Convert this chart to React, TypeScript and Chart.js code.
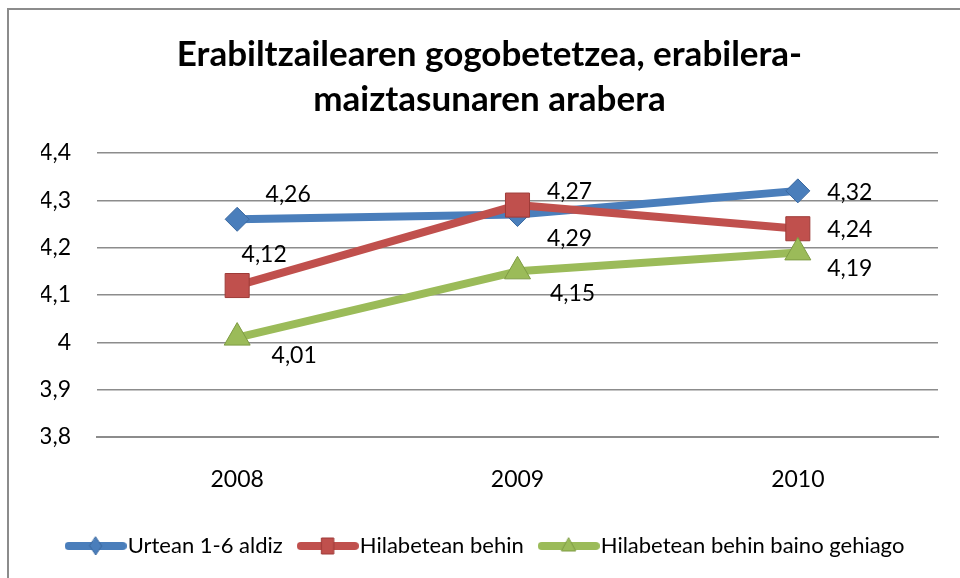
import React, { useEffect, useRef } from "react";
import { Chart, registerables } from "chart.js";

Chart.register(...registerables);

const TITLE_LINES = ["Erabiltzailearen gogobetetzea, erabilera-", "maiztasunaren arabera"];
const YEARS = ["2008", "2009", "2010"];
const SERIES_NAMES = ["Urtean 1-6 aldiz", "Hilabetean behin", "Hilabetean behin baino gehiago"];
const URTEAN = [4.26, 4.27, 4.32];
const HILABETEAN = [4.12, 4.29, 4.24];
const GEHIAGO = [4.01, 4.15, 4.19];
const Y_MIN = 3.8;
const Y_MAX = 4.4;
const Y_STEP = 0.1;

const FONT = "Lato, 'Open Sans', sans-serif";
const COLORS = ["#4A7EBB", "#C0504D", "#9BBB59"];
const BORDERS = ["#3A68A0", "#9E3B38", "#7E9C43"];
const STYLES = ["rectRot", "rect", "triangle"];
const RADII = [12, 17, 15];
// label offsets (dx, dy) from each point, per dataset
const LABEL_OFFSETS = [
  [[51, -25], [52, -23], [52, 2]],
  [[27, -31], [52, 34], [52, 1]],
  [[57, 18], [55, 22], [52, 16]],
];

const fmt = (v: number) => String(Math.round(v * 100) / 100).replace(".", ",");

function legendImage(i: number): HTMLCanvasElement {
  const c = document.createElement("canvas");
  c.width = 62;
  c.height = 24;
  const ctx = c.getContext("2d")!;
  ctx.strokeStyle = COLORS[i];
  ctx.lineWidth = 8;
  ctx.lineCap = "round";
  ctx.beginPath();
  ctx.moveTo(4, 12);
  ctx.lineTo(58, 12);
  ctx.stroke();
  ctx.fillStyle = COLORS[i];
  ctx.strokeStyle = BORDERS[i];
  ctx.lineWidth = 1;
  ctx.beginPath();
  if (i === 0) {
    ctx.moveTo(31, 3);
    ctx.lineTo(37, 12);
    ctx.lineTo(31, 21);
    ctx.lineTo(25, 12);
    ctx.closePath();
  } else if (i === 1) {
    ctx.rect(25, 4, 12, 16);
  } else {
    ctx.moveTo(31, 4);
    ctx.lineTo(38, 17);
    ctx.lineTo(24, 17);
    ctx.closePath();
  }
  ctx.fill();
  ctx.stroke();
  return c;
}

const framePlugin = {
  id: "frame",
  beforeDraw(chart: any) {
    const ctx = chart.ctx;
    ctx.save();
    ctx.fillStyle = "#ffffff";
    ctx.fillRect(0, 0, chart.width, chart.height);
    ctx.strokeStyle = "#8c8c8c";
    ctx.lineWidth = 2;
    ctx.beginPath();
    ctx.moveTo(8, chart.height);
    ctx.lineTo(8, 9);
    ctx.lineTo(chart.width, 9);
    ctx.stroke();
    ctx.restore();
  },
};

const labelPlugin = {
  id: "valueLabels",
  afterDatasetsDraw(chart: any) {
    const ctx = chart.ctx;
    ctx.save();
    ctx.font = `23px ${FONT}`;
    ctx.fillStyle = "#000";
    ctx.textAlign = "center";
    ctx.textBaseline = "middle";
    chart.data.datasets.forEach((ds: any, di: number) => {
      const meta = chart.getDatasetMeta(di);
      meta.data.forEach((pt: any, pi: number) => {
        const [dx, dy] = LABEL_OFFSETS[di][pi];
        ctx.fillText(fmt(ds.data[pi]), pt.x + dx, pt.y + dy);
      });
    });
    ctx.restore();
  },
};

export default function App() {
  const ref = useRef<HTMLCanvasElement>(null);
  useEffect(() => {
    document.body.style.margin = "0";
    const seriesData = [URTEAN, HILABETEAN, GEHIAGO];
    const imgs = [0, 1, 2].map(legendImage);
    const chart = new Chart(ref.current!, {
      type: "line",
      data: {
        labels: YEARS,
        datasets: seriesData.map((d, i) => ({
          label: SERIES_NAMES[i],
          data: d,
          borderColor: COLORS[i],
          backgroundColor: COLORS[i],
          borderWidth: 8,
          borderJoinStyle: "round" as const,
          tension: 0,
          pointStyle: STYLES[i] as any,
          pointRadius: RADII[i],
          pointBackgroundColor: COLORS[i],
          pointBorderColor: BORDERS[i],
          pointBorderWidth: 1,
          order: 3 - i,
        })),
      },
      options: {
        responsive: false,
        animation: false,
        devicePixelRatio: 1,
        layout: { padding: { left: 41, right: 22, top: 0, bottom: 11 } },
        plugins: {
          tooltip: { enabled: false },
          title: {
            display: true,
            text: TITLE_LINES,
            color: "#000",
            font: { family: FONT, size: 35, weight: "bold", lineHeight: 45 / 35 },
            padding: { top: 32.5, bottom: 30.5 },
          },
          legend: {
            position: "bottom",
            labels: {
              usePointStyle: true,
              pointStyleWidth: 42,
              boxHeight: 20,
              padding: 24,
              color: "#000",
              font: { family: FONT, size: 22 },
              generateLabels: (c: any) =>
                c.data.datasets.map((ds: any, i: number) => ({
                  text: ds.label,
                  pointStyle: imgs[i],
                  fillStyle: COLORS[i],
                  strokeStyle: COLORS[i],
                  lineWidth: 0,
                  hidden: false,
                  datasetIndex: i,
                  fontColor: "#000",
                })),
            },
          },
        },
        scales: {
          x: {
            type: "category",
            offset: true,
            grid: { display: false, drawTicks: false },
            border: { display: true, color: "#8c8c8c", width: 2 },
            ticks: { color: "#000", padding: 29, font: { family: FONT, size: 23 } },
            afterFit: (s: any) => {
              s.height = 74;
            },
          },
          y: {
            min: Y_MIN,
            max: Y_MAX,
            grid: { color: "#8c8c8c", lineWidth: 1.5, drawTicks: false },
            border: { display: false },
            ticks: {
              stepSize: Y_STEP,
              color: "#000",
              padding: 26,
              font: { family: FONT, size: 23 },
              callback: (v: any) => String(Math.round(Number(v) * 10) / 10).replace(".", ","),
            },
            afterFit: (s: any) => {
              s.width = 56;
            },
          },
        },
      },
      plugins: [framePlugin, labelPlugin],
    });
    return () => chart.destroy();
  }, []);
  return (
    <div style={{ width: 960, height: 578 }}>
      <canvas ref={ref} width={960} height={578} />
    </div>
  );
}
